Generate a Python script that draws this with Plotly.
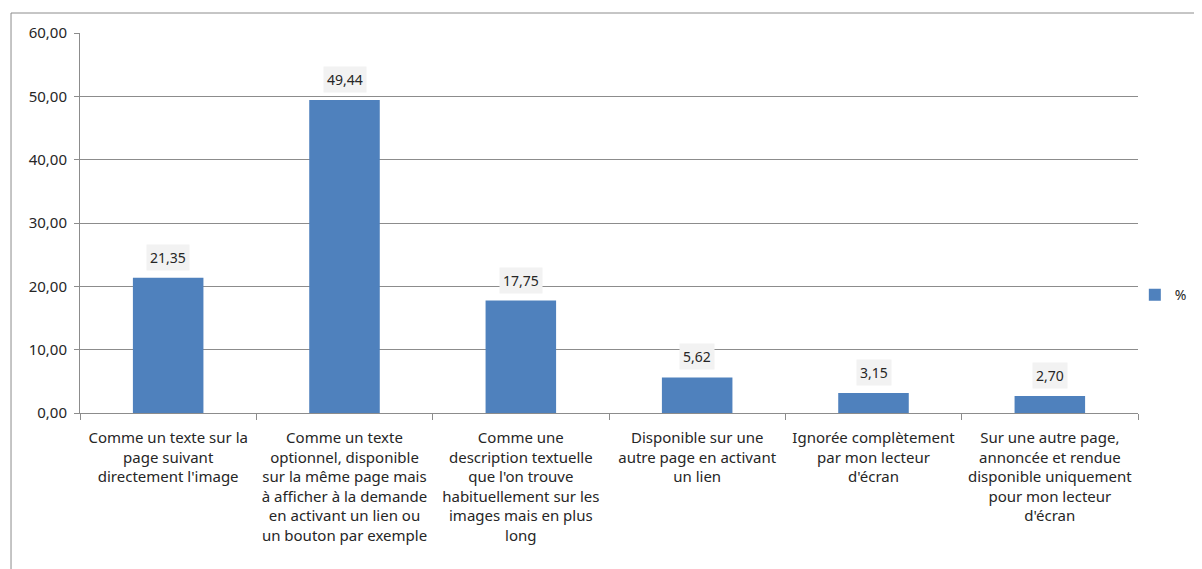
import plotly.graph_objects as go

categories = [
    "Comme un texte sur la<br>page suivant<br>directement l'image",
    "Comme un texte<br>optionnel, disponible<br>sur la même page mais<br>à afficher à la demande<br>en activant un lien ou<br>un bouton par exemple",
    "Comme une<br>description textuelle<br>que l'on trouve<br>habituellement sur les<br>images mais en plus<br>long",
    "Disponible sur une<br>autre page en activant<br>un lien",
    "Ignorée complètement<br>par mon lecteur<br>d'écran",
    "Sur une autre page,<br>annoncée et rendue<br>disponible uniquement<br>pour mon lecteur<br>d'écran",
]
values = [21.35, 49.44, 17.75, 5.62, 3.15, 2.70]
series_name = "%"

bar_color = "#4f81bd"
grid_color = "#8c8c8c"
font_family = "Noto Sans, Open Sans, sans-serif"

fig = go.Figure()
fig.add_trace(go.Bar(
    x=categories, y=values, name=series_name,
    marker=dict(color=bar_color, line=dict(width=0)),
    width=0.4, showlegend=True,
))

# value labels with light grey box, like the Excel data labels
for c, v in zip(categories, values):
    fig.add_annotation(
        x=c, y=v, text=f"{v:.2f}".replace(".", ","),
        showarrow=False, yanchor="bottom", yshift=7,
        bgcolor="#f2f2f2", borderpad=3,
        font=dict(family=font_family, size=14, color="#262626"),
    )

# outer chart frame (left/top edges visible)
fig.add_shape(type="rect", xref="paper", yref="paper",
              x0=-0.0652, x1=1.3, y0=-0.6, y1=1.0526,
              line=dict(color="#8c8c8c", width=1), layer="below")

# page body has an 8px margin, so margins are shifted by that amount
fig.update_layout(
    width=1202, height=569,
    margin=dict(l=72, r=72, t=25, b=164, autoexpand=False),
    paper_bgcolor="white", plot_bgcolor="white",
    separators=", ",
    font=dict(family=font_family, size=14, color="#262626"),
    bargap=0.6,
    legend=dict(x=0.997, y=0.31, xanchor="left", yanchor="middle",
                font=dict(size=14), itemwidth=30, bgcolor="rgba(0,0,0,0)"),
    xaxis=dict(
        type="category", tickson="boundaries", ticks="outside", ticklen=6,
        tickcolor=grid_color, showline=True, linecolor=grid_color, linewidth=1,
        showgrid=False, tickfont=dict(size=15), automargin=False,
        ticklabelstandoff=11,
    ),
    yaxis=dict(
        range=[0, 60], dtick=10, tickformat=".2f", ticks="outside", ticklen=5,
        tickcolor=grid_color, showline=True, linecolor=grid_color,
        gridcolor=grid_color, gridwidth=1, zeroline=False,
        tickfont=dict(size=15), automargin=False, ticklabelstandoff=4,
    ),
)

fig.write_html("out.html")
